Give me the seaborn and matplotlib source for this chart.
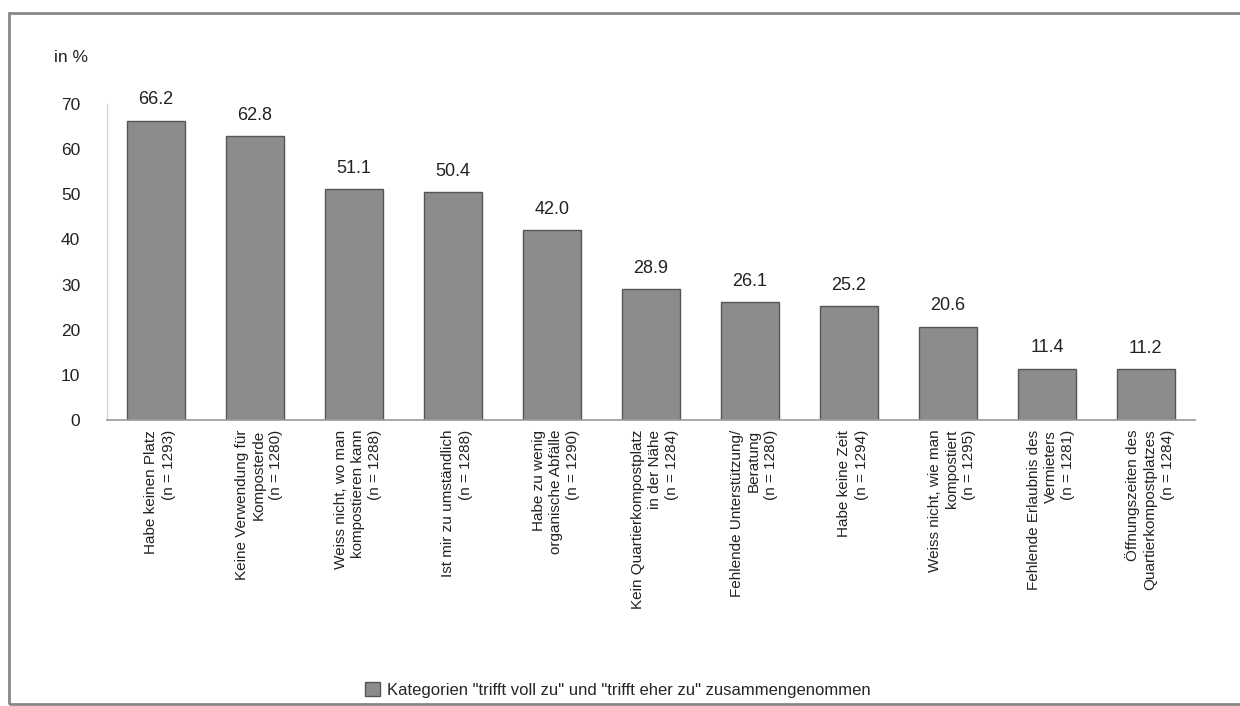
import matplotlib
matplotlib.use("Agg")
import matplotlib.pyplot as plt
import matplotlib.patches as mpatches
import matplotlib.transforms as mtransforms
import seaborn as sns

# Daten
categories = [
    "Habe keinen Platz\n(n = 1293)",
    "Keine Verwendung für\nKomposterde\n(n = 1280)",
    "Weiss nicht, wo man\nkompostieren kann\n(n = 1288)",
    "Ist mir zu umständlich\n(n = 1288)",
    "Habe zu wenig\norganische Abfälle\n(n = 1290)",
    "Kein Quartierkompostplatz\nin der Nähe\n(n = 1284)",
    "Fehlende Unterstützung/\nBeratung\n(n = 1280)",
    "Habe keine Zeit\n(n = 1294)",
    "Weiss nicht, wie man\nkompostiert\n(n = 1295)",
    "Fehlende Erlaubnis des\nVermieters\n(n = 1281)",
    "Öffnungszeiten des\nQuartierkompostplatzes\n(n = 1284)",
]
values = [66.2, 62.8, 51.1, 50.4, 42.0, 28.9, 26.1, 25.2, 20.6, 11.4, 11.2]
y_ticks = [0, 10, 20, 30, 40, 50, 60, 70]
legend_text = 'Kategorien "trifft voll zu" und "trifft eher zu" zusammengenommen'

sns.set_style("white")
plt.rcParams['font.family'] = ['Liberation Sans', 'DejaVu Sans']

fig = plt.figure(figsize=(12.4, 7.06), dpi=100)
ax = fig.add_axes([0.086, 0.405, 0.878, 0.448])

sns.barplot(x=categories, y=values, color="#8c8c8c", saturation=1,
            width=0.59, edgecolor="#555555", linewidth=1, ax=ax)

ax.set_xlim(-0.5, 10.5)
ax.set_ylim(0, 70)
ax.set_yticks(y_ticks)
ax.set_yticklabels([str(t) for t in y_ticks], fontsize=12.5, color="#222222")
ax.tick_params(axis='y', length=5, width=0.8, color="#cccccc", pad=14)
ax.tick_params(axis='x', length=0, pad=7)
ax.set_xticks(range(len(categories)))
ax.set_xticklabels(categories, rotation=90, ha='center', va='top',
                   multialignment='right', fontsize=11, color="#222222",
                   linespacing=1.3)
# Beschriftung leicht nach rechts verschieben wie im Original
shift = mtransforms.ScaledTranslation(4 / 100, 0, fig.dpi_scale_trans)
for lbl in ax.get_xticklabels():
    lbl.set_transform(lbl.get_transform() + shift)

for s in ['top', 'right']:
    ax.spines[s].set_visible(False)
ax.spines['left'].set_color("#d0d0d0")
ax.spines['left'].set_linewidth(0.8)
ax.spines['bottom'].set_color("#9a9a9a")
ax.spines['bottom'].set_linewidth(1.2)

for i, v in enumerate(values):
    ax.annotate(f"{v:.1f}", (i, v), xytext=(0, 9), textcoords='offset points',
                ha='center', va='bottom', fontsize=13, color="#222222")

fig.text(54 / 1240, 1 - 57 / 706, "in %", fontsize=12.5, color="#222222",
         ha='left', va='center')

handle = mpatches.Patch(facecolor="#8c8c8c", edgecolor="#555555")
fig.legend([handle], [legend_text], loc='center', bbox_to_anchor=(0.498, 1 - 690 / 706),
           frameon=False, fontsize=12, handlelength=0.9, handleheight=0.9,
           handletextpad=0.4)

# Rahmen
frame = mpatches.Rectangle((9 / 1240, 2 / 706), 1.2, 1 - 15 / 706,
                           transform=fig.transFigure, fill=False,
                           edgecolor="#888888", linewidth=2, clip_on=False)
fig.patches.append(frame)

fig.savefig("out.png", dpi=100)
